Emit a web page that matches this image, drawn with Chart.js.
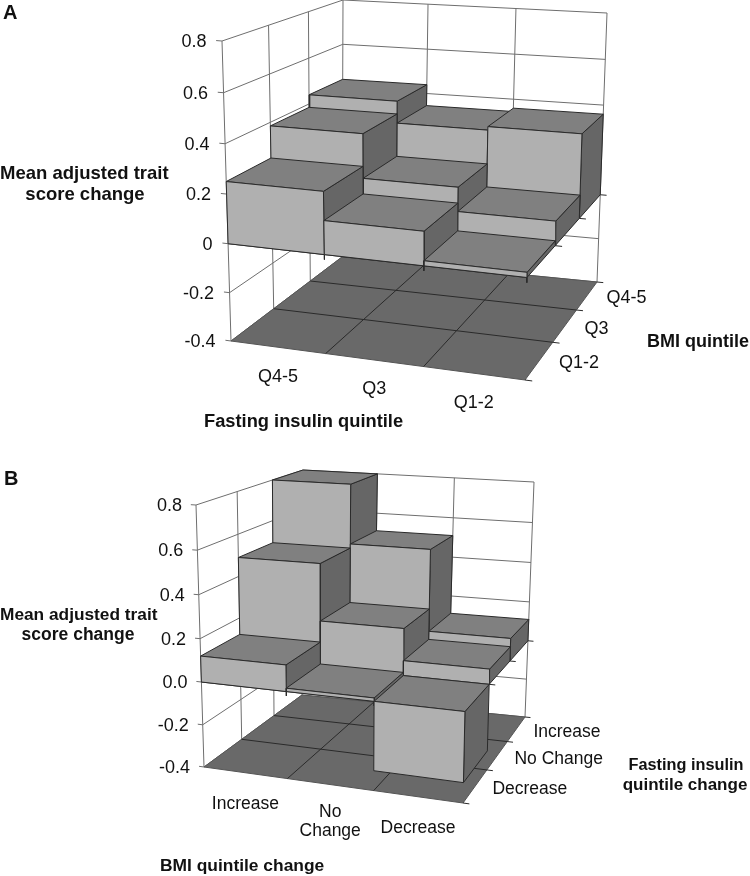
<!DOCTYPE html>
<html>
<head>
<meta charset="utf-8">
<script src="https://cdn.jsdelivr.net/npm/chart.js"></script>
<style>
  html, body { margin: 0; padding: 0; background: #fff; }
  canvas { position: absolute; left: 0; }
</style>
</head>
<body>
<canvas id="chartA" width="750" height="440" style="top:0"></canvas>
<canvas id="chartB" width="750" height="436" style="top:440px"></canvas>
<script>
// tick labels
const valueTicks = [-0.4, -0.2, 0, 0.2, 0.4, 0.6, 0.8];
const valueLabelsA = ['-0.4', '-0.2', '0', '0.2', '0.4', '0.6', '0.8'];
const valueLabelsB = ['-0.4', '-0.2', '0.0', '0.2', '0.4', '0.6', '0.8'];

// panel A categories, left to right and front to back
const fastingQuintiles = ['Q4-5', 'Q3', 'Q1-2'];
const bmiQuintiles = ['Q1-2', 'Q3', 'Q4-5'];

// panel A values, one list per BMI quintile
const bmiQ12Values = [0.25, 0.135, 0.02];
const bmiQ3Values = [0.385, 0.2, 0.1];
const bmiQ45Values = [0.44, 0.345, 0.36];

// panel B categories
const bmiChanges = [['Increase'], ['No', 'Change'], ['Decrease']];
const fastingChanges = ['Decrease', 'No Change', 'Increase'];

// panel B values, one list per fasting insulin change
const fastingDecreaseValues = [0.12, 0.015, -0.31];
const fastingNoChangeValues = [0.49, 0.22, 0.07];
const fastingIncreaseValues = [0.8, 0.51, 0.11];

const FONT = '"Liberation Sans", Arial, sans-serif';

// screen corners of the 3d plot box
const boxA = {
    flb: [231, 341], frb: [525, 380], blb: [342, 257], brb: [597, 282],
    flt: [222, 41], frt: [531, 64], blt: [343, 0], brt: [607, 13],
    warp: [0.95, 1.25, 0.96]
};
const boxB = {
    flb: [204, 767], frb: [463, 803], blb: [302, 695], brb: [525, 717],
    flt: [196, 505], frt: [469, 521], blt: [303, 470], brt: [534, 482],
    warp: [0.95, 1.25, 0.96]
};

function warp(t, a) {
    return t * a / (1 + t * (a - 1));
}

function mix(p, q, t) {
    return [p[0] + (q[0] - p[0]) * t, p[1] + (q[1] - p[1]) * t];
}

// i and j run over 0..3 (category and depth), v is the data value
function project(box, i, j, v) {
    const ti = warp(i / 3, box.warp[0]);
    const tj = warp(j / 3, box.warp[1]);
    const tv = warp((v + 0.4) / 1.2, box.warp[2]);
    const bottom = mix(mix(box.flb, box.frb, ti), mix(box.blb, box.brb, ti), tj);
    const top = mix(mix(box.flt, box.frt, ti), mix(box.blt, box.brt, ti), tj);
    const p = mix(bottom, top, tv);
    return { x: p[0], y: p[1] };
}

function lineSet(points, color, width) {
    return {
        data: points, showLine: true, pointRadius: 0, fill: false,
        borderColor: color, borderWidth: width, tension: 0
    };
}

function faceSet(points, color, edge) {
    return {
        data: points.concat([points[0]]), showLine: true, pointRadius: 0, fill: 'shape',
        backgroundColor: color, borderColor: edge, borderWidth: 1, tension: 0
    };
}

function buildDatasets(box, rows) {
    const out = [];
    const P = (i, j, v) => project(box, i, j, v);
    const grid = '#6e6e6e', edge = '#2a2a2a';

    // walls
    valueTicks.forEach(v => {
        out.push(lineSet([P(-0.06, 0, v), P(0, 0, v), P(0, 3, v), P(3, 3, v)], grid, 1));
    });
    for (let j = 0; j <= 3; j++) out.push(lineSet([P(0, j, -0.4), P(0, j, 0.8)], grid, 1));
    for (let i = 1; i <= 3; i++) out.push(lineSet([P(i, 3, -0.4), P(i, 3, 0.8)], grid, 1));

    // floor
    out.push(faceSet([P(0, 0, -0.4), P(3, 0, -0.4), P(3, 3, -0.4), P(0, 3, -0.4)], '#696969', '#555555'));
    for (let i = 1; i < 3; i++) out.push(lineSet([P(i, 0, -0.4), P(i, 3, -0.4)], edge, 1));
    for (let j = 1; j < 3; j++) out.push(lineSet([P(0, j, -0.4), P(3, j, -0.4)], edge, 1));
    for (let j = 0; j <= 3; j++) out.push(lineSet([P(3, j, -0.4), P(3.07, j, -0.4)], edge, 1));

    // axis ticks on the zero plane
    for (let i = 1; i <= 3; i++) out.push(lineSet([P(i, 0, 0), P(i, 0, -0.02)], edge, 1));
    for (let j = 1; j <= 3; j++) out.push(lineSet([P(3, j, 0), P(3.07, j, 0)], edge, 1));
    out.push(lineSet([P(0, 0, 0), P(3, 0, 0)], edge, 1));

    // bars, back row first, left to right
    for (let j = 2; j >= 0; j--) {
        rows[j].forEach((value, i) => {
            const hi = Math.max(value, 0), lo = Math.min(value, 0);
            out.push(faceSet([P(i + 1, j, lo), P(i + 1, j + 1, lo), P(i + 1, j + 1, hi), P(i + 1, j, hi)], '#666666', edge));
            out.push(faceSet([P(i, j, hi), P(i + 1, j, hi), P(i + 1, j + 1, hi), P(i, j + 1, hi)], '#808080', edge));
            out.push(faceSet([P(i, j, lo), P(i + 1, j, lo), P(i + 1, j, hi), P(i, j, hi)], '#b0b0b0', edge));
        });
    }
    // chart.js paints the first dataset last
    return out.reverse();
}

const panelText = {
    id: 'panelText',
    afterDraw(chart, args, opts) {
        const ctx = chart.ctx;
        const sx = chart.scales.x, sy = chart.scales.y;
        ctx.save();
        ctx.fillStyle = '#111';
        ctx.textBaseline = 'middle';
        opts.items.forEach(t => {
            ctx.font = (t.bold ? 'bold ' : '') + t.size + 'px ' + FONT;
            ctx.textAlign = t.align || 'left';
            ctx.fillText(t.text, sx.getPixelForValue(t.x), sy.getPixelForValue(t.y));
        });
        ctx.restore();
    }
};

function makePanel(canvasId, box, rows, top, height, items) {
    new Chart(document.getElementById(canvasId), {
        type: 'scatter',
        data: { datasets: buildDatasets(box, rows) },
        options: {
            responsive: false,
            animation: false,
            events: [],
            layout: { padding: 0 },
            scales: {
                x: { type: 'linear', display: false, min: 0, max: 750 },
                y: { type: 'linear', display: false, min: top, max: top + height, reverse: true }
            },
            plugins: {
                legend: { display: false },
                tooltip: { enabled: false },
                panelText: { items: items }
            }
        },
        plugins: [panelText]
    });
}

// panel A text
const itemsA = [
    { text: 'A', x: 3, y: 13, size: 20, bold: true },
    { text: 'Mean adjusted trait', x: 0, y: 174, size: 18.5, bold: true },
    { text: 'score change', x: 85, y: 195, size: 18.5, bold: true, align: 'center' },
    { text: 'Fasting insulin quintile', x: 204, y: 422, size: 18.3, bold: true },
    { text: 'BMI quintile', x: 647, y: 342, size: 18, bold: true }
];
valueTicks.forEach((v, k) => {
    const p = project(boxA, 0, 0, v);
    itemsA.push({ text: valueLabelsA[k], x: p.x - 15.5, y: p.y + 1, size: 18, align: 'right' });
});
fastingQuintiles.forEach((c, i) => {
    const p = project(boxA, i + 0.5, 0, -0.4);
    itemsA.push({ text: c, x: p.x, y: p.y + 29.5, size: 18, align: 'center' });
});
bmiQuintiles.forEach((c, j) => {
    const p = project(boxA, 3, j + 0.5, -0.4);
    itemsA.push({ text: c, x: p.x + 19.5, y: p.y + 3, size: 18 });
});

// panel B text
const itemsB = [
    { text: 'B', x: 4, y: 479, size: 20, bold: true },
    { text: 'Mean adjusted trait', x: 0, y: 615, size: 17.3, bold: true },
    { text: 'score change', x: 78, y: 635, size: 17.5, bold: true, align: 'center' },
    { text: 'BMI quintile change', x: 160, y: 866, size: 17.4, bold: true },
    { text: 'Fasting insulin', x: 686, y: 766, size: 16.3, bold: true, align: 'center' },
    { text: 'quintile change', x: 685, y: 785, size: 17, bold: true, align: 'center' }
];
valueTicks.forEach((v, k) => {
    const p = project(boxB, 0, 0, v);
    itemsB.push({ text: valueLabelsB[k], x: p.x - 14, y: p.y + 1, size: 18, align: 'right' });
});
bmiChanges.forEach((lines, i) => {
    const p = project(boxB, i + 0.5, 0, -0.4);
    lines.forEach((line, n) => {
        const y = lines.length > 1 ? p.y + 28 + n * 19 : p.y + 31;
        itemsB.push({ text: line, x: p.x, y: y, size: 17.5, align: 'center' });
    });
});
fastingChanges.forEach((c, j) => {
    const p = project(boxB, 3, j + 0.5, -0.4);
    itemsB.push({ text: c, x: p.x + 17, y: p.y + 3.5, size: 17.5 });
});

makePanel('chartA', boxA, [bmiQ12Values, bmiQ3Values, bmiQ45Values], 0, 440, itemsA);
makePanel('chartB', boxB, [fastingDecreaseValues, fastingNoChangeValues, fastingIncreaseValues], 440, 436, itemsB);
</script>
</body>
</html>
